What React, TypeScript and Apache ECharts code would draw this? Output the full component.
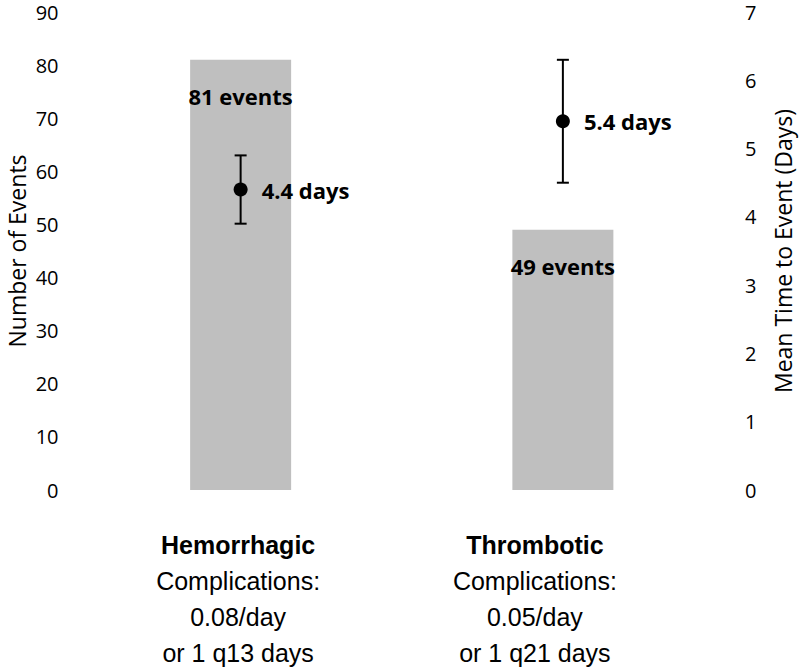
import React, { useEffect, useRef } from "react";
import * as echarts from "echarts";

const categories = ["Hemorrhagic", "Thrombotic"];
const rateLabels = ["0.08/day", "0.05/day"];
const freqLabels = ["or 1 q13 days", "or 1 q21 days"];
const eventCounts = [81, 49];
const meanDays = [4.4, 5.4];
const errLow = [3.9, 4.5];
const errHigh = [4.9, 6.3];

const leftTicks = { min: 0, max: 90, interval: 10 };
const rightTicks = { min: 0, max: 7, interval: 1 };

const SANS = "'Open Sans', 'Noto Sans', sans-serif";
const ARIAL = "'Liberation Sans', Arial, sans-serif";

export default function App() {
  const ref = useRef<HTMLDivElement>(null);
  useEffect(() => {
    if (!ref.current) return;
    const chart = echarts.init(ref.current, undefined, { renderer: "svg" });
    const lineStyle = (shift: number) => ({
      fontFamily: ARIAL,
      fontSize: 25,
      lineHeight: 36,
      color: "#000",
      padding: [0, shift, 0, 0],
    });
    chart.setOption({
      animation: false,
      grid: {
        left: 79.5,
        right: 76,
        top: 12,
        bottom: 177,
        containLabel: false,
        outerBoundsMode: "none",
      },
      xAxis: {
        type: "category",
        data: categories,
        axisLine: { show: false },
        axisTick: { show: false },
        axisLabel: {
          margin: 37,
          interval: 0,
          formatter: (value: string, idx: number) => {
            const s = idx === 0 ? "a" : "b";
            return [
              `{${s}b|${value}}`,
              `{${s}r|Complications:}`,
              `{${s}r|${rateLabels[idx]}}`,
              `{${s}r|${freqLabels[idx]}}`,
            ].join("\n");
          },
          rich: {
            ab: { ...lineStyle(5), fontWeight: "bold" },
            ar: lineStyle(5),
            bb: { ...lineStyle(56), fontWeight: "bold" },
            br: lineStyle(56),
          },
        },
      },
      yAxis: [
        {
          type: "value",
          ...leftTicks,
          name: "Number of Events",
          nameLocation: "middle",
          nameGap: 51,
          nameMoveOverlap: false,
          nameTextStyle: { fontFamily: SANS, fontSize: 23, lineHeight: 24, color: "#000" },
          axisLine: { show: false },
          axisTick: { show: false },
          splitLine: { show: false },
          axisLabel: { fontFamily: SANS, fontSize: 20, lineHeight: 20, color: "#000", margin: 21 },
        },
        {
          type: "value",
          ...rightTicks,
          name: "Mean Time to Event (Days)",
          nameLocation: "middle",
          nameGap: 47,
          nameMoveOverlap: false,
          nameTextStyle: { fontFamily: SANS, fontSize: 23, lineHeight: 24, color: "#000" },
          axisLine: { show: false },
          axisTick: { show: false },
          splitLine: { show: false },
          axisLabel: { fontFamily: SANS, fontSize: 20, lineHeight: 20, color: "#000", margin: 21 },
        },
      ],
      series: [
        {
          type: "bar",
          data: eventCounts,
          barWidth: 101,
          itemStyle: { color: "#bfbfbf" },
          label: {
            show: true,
            position: "insideTop",
            distance: 25,
            formatter: "{c} events",
            fontFamily: SANS,
            fontWeight: "bold",
            fontSize: 22,
            color: "#000",
          },
        },
        {
          type: "custom",
          yAxisIndex: 1,
          data: categories.map((_, i) => [i, errLow[i], errHigh[i]]),
          encode: { x: 0, y: [1, 2] },
          renderItem: (params: any, api: any) => {
            const lo = api.coord([api.value(0), api.value(1)]);
            const hi = api.coord([api.value(0), api.value(2)]);
            const cap = 6;
            const st = { stroke: "#000", lineWidth: 2 };
            return {
              type: "group",
              children: [
                { type: "line", shape: { x1: lo[0], y1: lo[1], x2: hi[0], y2: hi[1] }, style: st },
                { type: "line", shape: { x1: lo[0] - cap, y1: lo[1], x2: lo[0] + cap, y2: lo[1] }, style: st },
                { type: "line", shape: { x1: hi[0] - cap, y1: hi[1], x2: hi[0] + cap, y2: hi[1] }, style: st },
              ],
            };
          },
          z: 3,
        },
        {
          type: "scatter",
          yAxisIndex: 1,
          data: meanDays,
          symbol: "circle",
          symbolSize: 14,
          itemStyle: { color: "#000", opacity: 1 },
          z: 4,
          label: {
            show: true,
            position: "right",
            distance: 14,
            formatter: "{c} days",
            fontFamily: SANS,
            fontWeight: "bold",
            fontSize: 22,
            color: "#000",
            opacity: 1,
          },
        },
      ],
    });
    return () => chart.dispose();
  }, []);
  return <div ref={ref} style={{ width: 800, height: 667, position: "absolute", left: 0, top: 0 }} />;
}
